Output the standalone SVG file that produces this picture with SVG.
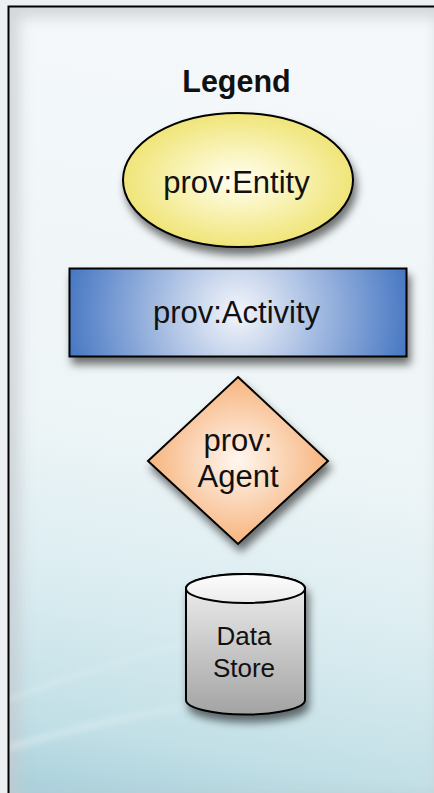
<svg xmlns="http://www.w3.org/2000/svg" width="434" height="793" viewBox="0 0 434 793">
<defs>
<linearGradient id="bg" x1="0.1" y1="0" x2="0" y2="1">
<stop offset="0" stop-color="#f4f8fa"/>
<stop offset="0.5" stop-color="#eef5f7"/>
<stop offset="0.7" stop-color="#dcedf1"/>
<stop offset="0.88" stop-color="#c3e0e7"/>
<stop offset="1" stop-color="#a4cdd9"/>
</linearGradient>
<radialGradient id="gEnt" cx="0.5" cy="0.5" r="0.55">
<stop offset="0" stop-color="#fffef4"/>
<stop offset="0.25" stop-color="#fcf8cf"/>
<stop offset="1" stop-color="#eee26c"/>
</radialGradient>
<radialGradient id="gAct" cx="0.5" cy="0.5" r="0.55" gradientTransform="translate(0.5 0.5) scale(1 3.8) translate(-0.5 -0.5)">
<stop offset="0" stop-color="#f4f6fb"/>
<stop offset="1" stop-color="#3a6ebf"/>
</radialGradient>
<radialGradient id="gAg" cx="0.5" cy="0.5" r="0.55">
<stop offset="0" stop-color="#fff7f0"/>
<stop offset="1" stop-color="#f6ad72"/>
</radialGradient>
<linearGradient id="gCyl" x1="0" y1="0" x2="0" y2="1">
<stop offset="0" stop-color="#f2f2f2"/>
<stop offset="1" stop-color="#a3a3a3"/>
</linearGradient>
<linearGradient id="gCylTop" x1="0" y1="0" x2="0" y2="1">
<stop offset="0" stop-color="#fdfdfd"/>
<stop offset="1" stop-color="#ececec"/>
</linearGradient>
<linearGradient id="streak" x1="0" y1="0" x2="1" y2="0">
<stop offset="0" stop-color="#ffffff" stop-opacity="0.35"/>
<stop offset="1" stop-color="#ffffff" stop-opacity="0"/>
</linearGradient>
<filter id="sh" x="-20%" y="-20%" width="140%" height="150%">
<feDropShadow dx="3" dy="7" stdDeviation="4" flood-color="#000" flood-opacity="0.55"/>
</filter>
<filter id="blur" x="-10%" y="-10%" width="120%" height="120%">
<feGaussianBlur stdDeviation="7"/>
</filter>
<filter id="soft" x="-10%" y="-50%" width="120%" height="200%">
<feGaussianBlur stdDeviation="3"/>
</filter>
<clipPath id="panel"><rect x="8.5" y="6.5" width="440" height="800"/></clipPath>
<style>
.lbl{font-family:"Liberation Sans",Arial,sans-serif;fill:#111;text-anchor:middle}
.shape{stroke:#000;stroke-width:2}
</style>
</defs>
<rect x="0" y="0" width="434" height="793" fill="#edf0f2"/>
<g id="frame">
<rect x="8.5" y="6.5" width="440" height="800" fill="url(#bg)"/>
<g clip-path="url(#panel)">
<rect x="8.5" y="6.5" width="440" height="800" fill="none" stroke="#c4c9cd" stroke-width="22" filter="url(#blur)" opacity="0.7"/>
<path d="M8 748 C100 720 200 700 330 690" fill="none" stroke="url(#streak)" stroke-width="6" filter="url(#soft)"/>
<path d="M8 700 C110 660 220 630 360 610" fill="none" stroke="url(#streak)" stroke-width="5" filter="url(#soft)" opacity="0.7"/>
</g>
<rect x="8.5" y="6.5" width="440" height="800" fill="none" stroke="#000" stroke-width="2"/>
</g>
<g id="legend-title">
<text class="lbl" x="236.5" y="92" font-size="30.5" font-weight="bold">Legend</text>
</g>
<g id="entity">
<ellipse class="shape" cx="238" cy="180" rx="115" ry="67" fill="url(#gEnt)" filter="url(#sh)"/>
<text class="lbl" x="236.5" y="193" font-size="31">prov:Entity</text>
</g>
<g id="activity">
<rect class="shape" x="69.5" y="268.5" width="337" height="88" fill="url(#gAct)" filter="url(#sh)"/>
<text class="lbl" x="236.5" y="323" font-size="31">prov:Activity</text>
</g>
<g id="agent">
<polygon class="shape" points="238,377 328,461 238,544 148,461" fill="url(#gAg)" filter="url(#sh)"/>
<text class="lbl" x="238" y="451" font-size="31">prov:</text>
<text class="lbl" x="238" y="487" font-size="31">Agent</text>
</g>
<g id="datastore">
<path class="shape" d="M186 588.5 L186 700 A59.5 14.5 0 0 0 305 700 L305 588.5 A59.5 14.5 0 0 0 186 588.5 Z" fill="url(#gCyl)" filter="url(#sh)"/>
<ellipse class="shape" cx="245.5" cy="588.5" rx="59.5" ry="14.5" fill="url(#gCylTop)"/>
<text class="lbl" x="244" y="645" font-size="26">Data</text>
<text class="lbl" x="244" y="677" font-size="26">Store</text>
</g>
<g id="connectors"/>
</svg>
